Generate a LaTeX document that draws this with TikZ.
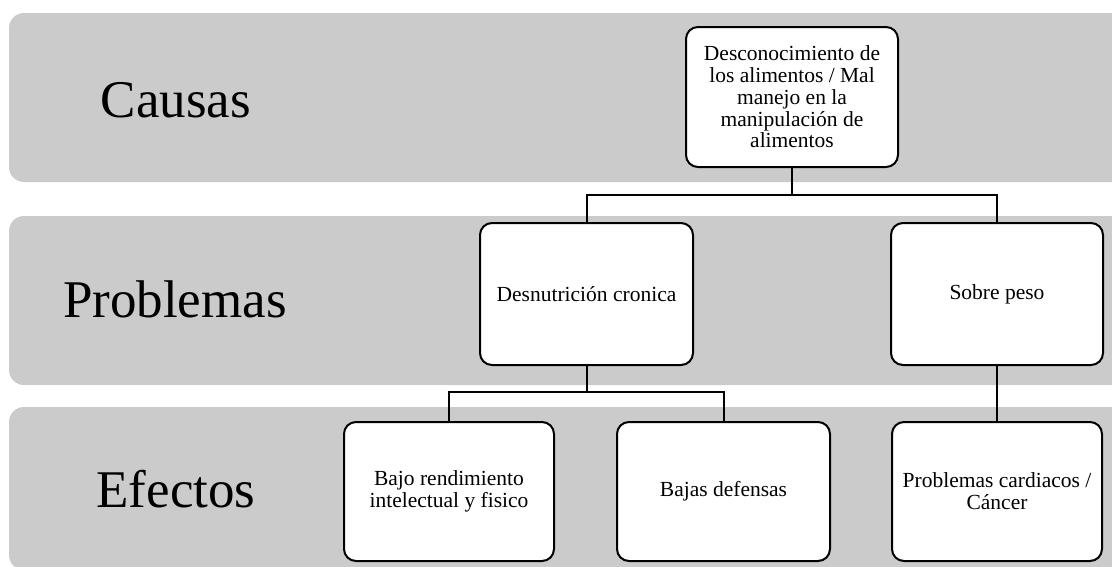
\documentclass[tikz,border=0pt]{standalone}
\usepackage{fontspec}
\setmainfont{Liberation Serif}
\begin{document}
\begin{tikzpicture}[x=1pt,y=-1pt,
  band/.style={fill=bandgray,draw=none,rounded corners=15pt},
  rowlabel/.style={anchor=base,inner sep=0pt,font=\fontsize{53}{60}\selectfont},
  item/.style={draw=black,line width=2pt,fill=white,rounded corners=12pt,
    align=center,inner sep=4pt,font=\fontsize{21.5}{21.8}\selectfont},
  link/.style={draw=black,line width=2pt}]
\definecolor{bandgray}{RGB}{203,203,203}
\useasboundingbox (0,0) rectangle (1112,566);
\clip (0,0) rectangle (1112,566);

% row bands
\path[band] (9,13) rectangle (1135,182);
\path[band] (9,216) rectangle (1135,385);
\path[band] (9,407) rectangle (1135,570);

% row titles
\node[rowlabel] (lc) at (176,117) {Causas};
\node[rowlabel] (lp) at (175,317) {Problemas};
\node[rowlabel] (le) at (176,507) {Efectos};

% boxes
\node[item,minimum width=212pt,minimum height=140pt] (top) at (792,97)
  {Desconocimiento de\\los alimentos / Mal\\manejo en la\\manipulación de\\alimentos};
\node[item,minimum width=213pt,minimum height=142pt] (des) at (586.5,294) {Desnutrición cronica};
\node[item,minimum width=212pt,minimum height=142pt] (sob) at (997,294) {Sobre peso};
\node[item,minimum width=210pt,minimum height=139pt] (bajo) at (449,491.5)
  {Bajo rendimiento\\intelectual y fisico};
\node[item,minimum width=213pt,minimum height=139pt] (def) at (723.5,491.5) {Bajas defensas};
\node[item,minimum width=210pt,minimum height=139pt] (car) at (997,491.5)
  {Problemas cardiacos /\\Cáncer};

% connectors
\coordinate (j1) at (top.south |- 0,195);
\coordinate (j2) at (des.south |- 0,392);
\draw[link] (top.south) -- (j1);
\draw[link] (j1) -| (des.north);
\draw[link] (j1) -| (sob.north);
\draw[link] (des.south) -- (j2);
\draw[link] (j2) -| (bajo.north);
\draw[link] (j2) -| (def.north);
\draw[link] (sob.south) -- (car.north);
\end{tikzpicture}
\end{document}
